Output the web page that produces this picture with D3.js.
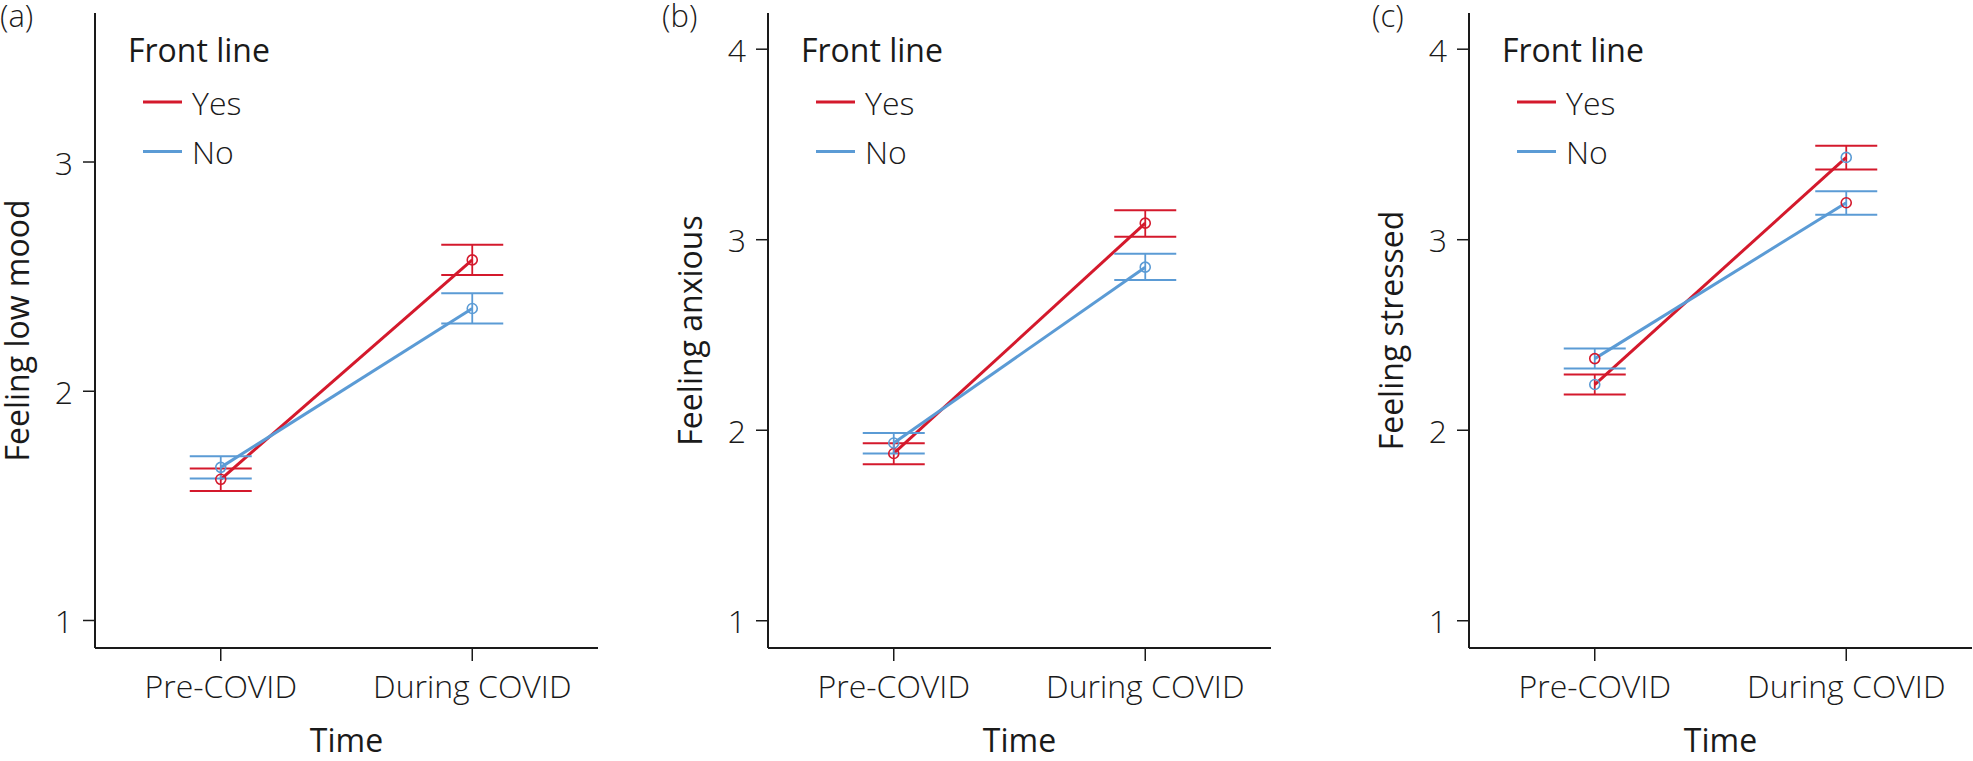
<!DOCTYPE html>
<html>
<head>
<meta charset="utf-8">
<script src="https://cdn.jsdelivr.net/npm/d3@7"></script>
<style>
  body { margin: 0; background: #fff; }
  text { font-family: "Open Sans", sans-serif; fill: #1a1a1a; }
</style>
</head>
<body>
<svg id="chart"></svg>
<script>
// categories
const timepoints = ["Pre-COVID", "During COVID"]
const groups = ["Yes", "No"]
const panelLabels = ["(a)", "(b)", "(c)"]
const yTitles = ["Feeling low mood", "Feeling anxious", "Feeling stressed"]
const yTicks = [[1, 2, 3], [1, 2, 3, 4], [1, 2, 3, 4]]
const yDomains = [[0.88, 3.65], [0.857, 4.19], [0.857, 4.19]]

// means and error bar ends, one row per panel, [pre, during]
const yesMean  = [[1.616, 2.573], [1.878, 3.087], [2.240, 3.432]]
const yesLower = [[1.565, 2.507], [1.822, 3.016], [2.187, 3.369]]
const yesUpper = [[1.663, 2.639], [1.932, 3.155], [2.292, 3.493]]
const noMean   = [[1.668, 2.361], [1.933, 2.856], [2.376, 3.194]]
const noLower  = [[1.619, 2.296], [1.878, 2.788], [2.324, 3.131]]
const noUpper  = [[1.716, 2.427], [1.986, 2.926], [2.429, 3.254]]
// in panel (c) the circle colours are swapped in the original figure
const circleSwapped = [false, false, true]

const W = 1973, H = 761
const panelLeft = [95, 768, 1469]
const labelX = [0, 662, 1372]
const panelW = 503
const plotTop = 13, plotBottom = 648
const colors = {Yes: "#d4192c", No: "#5b9bd5"}

const svg = d3.select("#chart").attr("width", W).attr("height", H)

const x = d3.scalePoint().domain(timepoints).range([0, panelW]).padding(0.5)

panelLabels.forEach((lab, p) => {
    const g = svg.append("g").attr("transform", `translate(${panelLeft[p]},0)`)
    const y = d3.scaleLinear().domain(yDomains[p]).range([plotBottom, plotTop])

    // axes
    g.append("line").attr("x1", 0).attr("x2", 0).attr("y1", plotTop).attr("y2", plotBottom)
        .attr("stroke", "#1a1a1a").attr("stroke-width", 2)
    g.append("line").attr("x1", 0).attr("x2", panelW).attr("y1", plotBottom).attr("y2", plotBottom)
        .attr("stroke", "#1a1a1a").attr("stroke-width", 2)

    yTicks[p].forEach(t => {
        g.append("line").attr("x1", -12).attr("x2", 0).attr("y1", y(t)).attr("y2", y(t))
            .attr("stroke", "#1a1a1a").attr("stroke-width", 1.5)
        g.append("text").text(t).attr("x", -22).attr("y", y(t))
            .attr("text-anchor", "end").attr("dominant-baseline", "central")
            .attr("font-size", 32).attr("font-weight", 300)
    })
    timepoints.forEach(tp => {
        g.append("line").attr("x1", x(tp)).attr("x2", x(tp)).attr("y1", plotBottom).attr("y2", plotBottom + 13)
            .attr("stroke", "#1a1a1a").attr("stroke-width", 1.5)
        g.append("text").text(tp).attr("x", x(tp)).attr("y", 698)
            .attr("text-anchor", "middle").attr("font-size", 32).attr("font-weight", 300)
    })

    g.append("text").text("Time").attr("x", panelW / 2).attr("y", 752)
        .attr("text-anchor", "middle").attr("font-size", 32)
    g.append("text").text(yTitles[p])
        .attr("transform", `translate(-66,${(plotTop + plotBottom) / 2}) rotate(-90)`)
        .attr("text-anchor", "middle").attr("font-size", 32)

    svg.append("text").text(lab).attr("x", labelX[p]).attr("y", 27).attr("font-size", 31).attr("font-weight", 300)

    // series
    const series = groups.map(gr => {
        const mean = gr === "Yes" ? yesMean[p] : noMean[p]
        const lo = gr === "Yes" ? yesLower[p] : noLower[p]
        const hi = gr === "Yes" ? yesUpper[p] : noUpper[p]
        return {group: gr, values: timepoints.map((tp, i) => ({tp: tp, mean: mean[i], lo: lo[i], hi: hi[i]}))}
    })

    const line = d3.line().x(d => x(d.tp)).y(d => y(d.mean))

    series.forEach(s => {
        const c = colors[s.group]
        g.append("path").datum(s.values).attr("d", line)
            .attr("fill", "none").attr("stroke", c).attr("stroke-width", 3)
        s.values.forEach(d => {
            g.append("line").attr("x1", x(d.tp)).attr("x2", x(d.tp)).attr("y1", y(d.lo)).attr("y2", y(d.hi))
                .attr("stroke", c).attr("stroke-width", 1.8)
            ;[d.lo, d.hi].forEach(v => {
                g.append("line").attr("x1", x(d.tp) - 31).attr("x2", x(d.tp) + 31).attr("y1", y(v)).attr("y2", y(v))
                    .attr("stroke", c).attr("stroke-width", 2)
            })
        })
    })
    series.forEach(s => {
        const other = s.group === "Yes" ? "No" : "Yes"
        const c = circleSwapped[p] ? colors[other] : colors[s.group]
        s.values.forEach(d => {
            g.append("circle").attr("cx", x(d.tp)).attr("cy", y(d.mean)).attr("r", 5)
                .attr("fill", "none").attr("stroke", c).attr("stroke-width", 1.6)
        })
    })

    // legend
    const leg = g.append("g")
    leg.append("text").text("Front line").attr("x", 33).attr("y", 62).attr("font-size", 32)
    groups.forEach((gr, i) => {
        const ly = 102 + i * 49.5
        leg.append("line").attr("x1", 48).attr("x2", 87).attr("y1", ly).attr("y2", ly)
            .attr("stroke", colors[gr]).attr("stroke-width", 3)
        leg.append("text").text(gr).attr("x", 97).attr("y", ly).attr("dominant-baseline", "central")
            .attr("font-size", 32).attr("font-weight", 300)
    })
})
</script>
</body>
</html>
